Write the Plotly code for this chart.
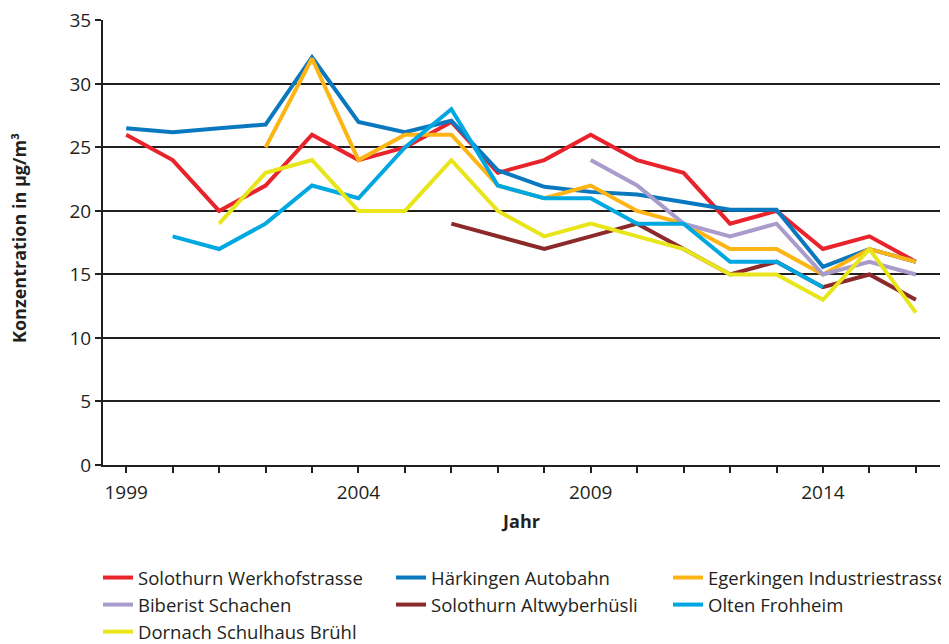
import plotly.graph_objects as go

years = list(range(1999, 2017))

series_names = [
    "Solothurn Werkhofstrasse",
    "Härkingen Autobahn",
    "Egerkingen Industriestrasse",
    "Biberist Schachen",
    "Solothurn Altwyberhüsli",
    "Olten Frohheim",
    "Dornach Schulhaus Brühl",
]

N = None
solothurn_werkhof = [26, 24, 20, 22, 26, 24, 25, 27, 23, 24, 26, 24, 23, 19, 20, 17, 18, 16]
haerkingen = [26.5, 26.2, 26.5, 26.8, 32.1, 27, 26.2, 27.1, 23.2, 21.9, 21.5, 21.3, 20.7, 20.1, 20.1, 15.6, 17, 16]
egerkingen = [N, N, N, 25, 32, 24, 26, 26, 22, 21, 22, 20, 19, 17, 17, 15, 17, 16]
biberist = [N, N, N, N, N, N, N, N, N, N, 24, 22, 19, 18, 19, 15, 16, 15]
altwyberhuesli = [N, N, N, N, N, N, N, 19, 18, 17, 18, 19, 17, 15, 16, 14, 15, 13]
olten = [N, 18, 17, 19, 22, 21, 25, 28, 22, 21, 21, 19, 19, 16, 16, 14, N, N]
dornach = [N, N, 19, 23, 24, 20, 20, 24, 20, 18, 19, 18, 17, 15, 15, 13, 17, 12]

series_values = [solothurn_werkhof, haerkingen, egerkingen, biberist,
                 altwyberhuesli, olten, dornach]

colors = ["#E8232B", "#0A78BE", "#FDB515", "#A99BCB", "#8C2A2B", "#00A8E1", "#E9E51B"]
legend_ids = ["legend", "legend2", "legend3", "legend", "legend2", "legend3", "legend"]

x_tick_labels = ["1999", "", "", "", "", "2004", "", "", "", "", "2009", "", "", "", "", "2014", "", ""]
y_ticks = [0, 5, 10, 15, 20, 25, 30, 35]
y_title = "Konzentration in µg/m³"

FONT = "Open Sans"
INK = "#231F20"
W, H = 941, 636  # page body has an 8px margin

fig = go.Figure()
for name, vals, col, lg in zip(series_names, series_values, colors, legend_ids):
    fig.add_trace(go.Scatter(
        x=years, y=vals, name=name, mode="lines",
        line=dict(color=col, width=4),
        legend=lg, connectgaps=False,
    ))

legend_common = dict(
    orientation="v", xref="container", yref="container",
    xanchor="left", yanchor="top", y=1 - 551 / H,
    font=dict(family=FONT, size=18.5, color=INK),
    itemwidth=30, tracegroupgap=0, bgcolor="rgba(0,0,0,0)",
)

fig.add_annotation(
    text="<b>" + y_title + "</b>", textangle=-90,
    xref="paper", yref="paper", x=-0.1004, y=0.51,
    xanchor="center", yanchor="middle", showarrow=False,
    font=dict(family=FONT, size=18, color=INK),
)

fig.update_layout(
    width=W, height=H,
    margin=dict(l=95, r=9, t=12, b=179, autoexpand=False),
    paper_bgcolor="white", plot_bgcolor="white",
    font=dict(family=FONT, size=19, color=INK),
    showlegend=True,
    legend=dict(legend_common, x=90 / W),
    legend2=dict(legend_common, x=383 / W),
    legend3=dict(legend_common, x=660 / W),
    xaxis=dict(
        range=[1998.5, 2016.52],
        tickmode="array", tickvals=years, ticktext=x_tick_labels, tickangle=0,
        ticks="outside", ticklen=6, tickwidth=2, tickcolor=INK,
        ticklabelstandoff=3,
        showline=True, linecolor=INK, linewidth=2,
        showgrid=False, zeroline=False,
        tickfont=dict(family=FONT, size=19, color=INK),
        title=dict(text="<b>Jahr</b>", font=dict(family=FONT, size=18, color=INK), standoff=12),
    ),
    yaxis=dict(
        range=[0, 35.03], tickmode="array", tickvals=y_ticks,
        ticks="outside", ticklen=6, tickwidth=2, tickcolor=INK,
        ticksuffix="  ", ticklabeloverflow="allow",
        showline=True, linecolor=INK, linewidth=2,
        showgrid=True, gridcolor=INK, gridwidth=2,
        zeroline=False,
        tickfont=dict(family=FONT, size=19, color=INK),
    ),
)

fig.write_html("out.html")
